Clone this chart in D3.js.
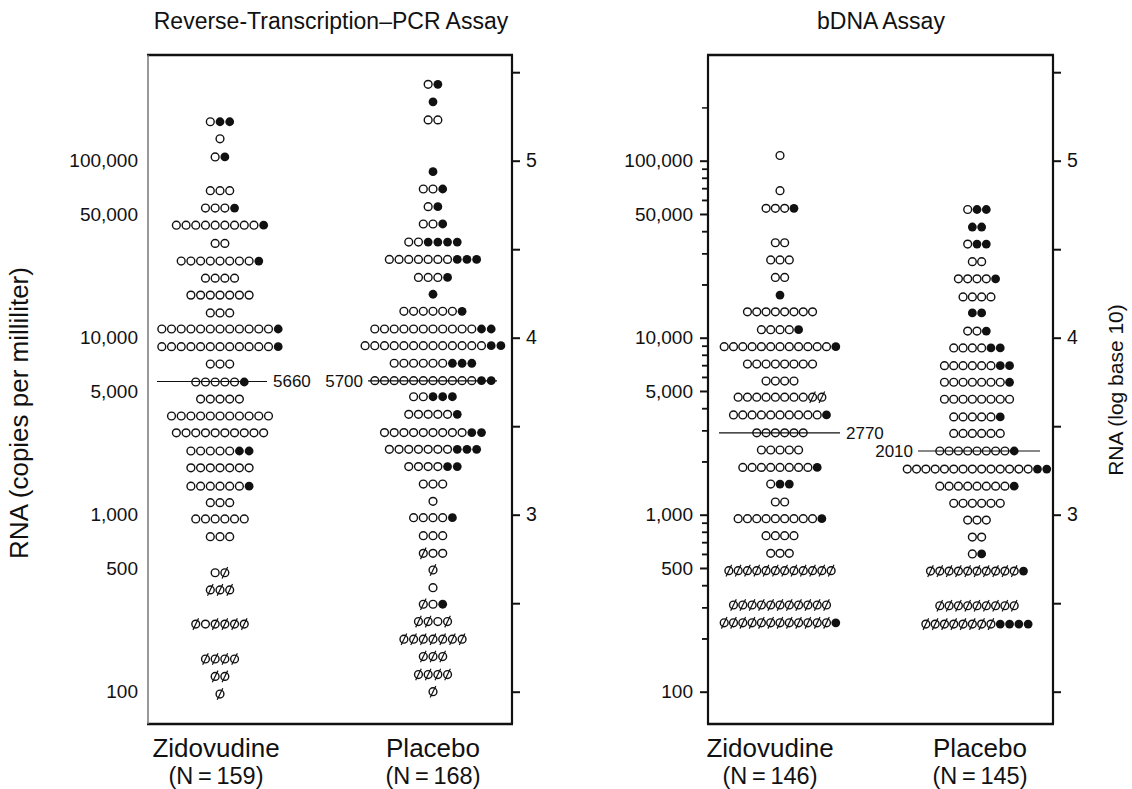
<!DOCTYPE html>
<html>
<head>
<meta charset="utf-8">
<script src="https://cdn.jsdelivr.net/npm/d3@7"></script>
<style>
  body { margin: 0; background: #fff; }
  text { font-family: "Liberation Sans", Arial, sans-serif; fill: #111; }
</style>
</head>
<body>
<svg width="1132" height="789"></svg>
<script>
const svg = d3.select('svg')

// axis ticks
const countTicks = [100, 500, 1000, 5000, 10000, 50000, 100000]
const logTicks = [2, 2.5, 3, 3.5, 4, 4.5, 5, 5.5]
const logLabels = [3, 4, 5]
const groups = ['Zidovudine', 'Placebo']
const assays = ['Reverse-Transcription\u2013PCR Assay', 'bDNA Assay']
const groupN = [[159, 168], [146, 145]]

// one row per level: [RNA copies per ml, dots]  o open, f filled, s slashed
const rtZidovudine = [
  [166000, 'off'], [133000, 'o'], [105000, 'of'], [67700, 'ooo'], [54000, 'ooof'],
  [43200, 'ooooooooof'], [34100, 'oo'], [27100, 'oooooooof'], [21700, 'oooo'],
  [17400, 'ooooooo'], [13800, 'ooo'], [11200, 'oooooooooooof'], [8900, 'oooooooooooof'],
  [7100, 'ooo'], [5620, 'ooooof'], [4500, 'ooooo'], [3610, 'ooooooooooo'],
  [2900, 'oooooooooo'], [2290, 'oooooff'], [1840, 'ooooooo'], [1450, 'oooooof'],
  [1170, 'ooo'], [946, 'oooooo'], [751, 'ooo'], [470, 'os'], [376, 'sss'],
  [241, 'sossss'], [153, 'ssss'], [122, 'ss'], [97, 's']
]
const rtPlacebo = [
  [270000, 'of'], [215000, 'f'], [170000, 'oo'], [86700, 'f'], [69200, 'oof'],
  [55000, 'of'], [43900, 'oof'], [34700, 'ooffff'], [27700, 'ooooooofff'],
  [21900, 'ooof'], [17600, 'f'], [14100, 'oooooof'], [11200, 'oooooooooooff'],
  [9010, 'oooooooooooooff'], [7170, 'oooooofff'], [5720, 'oooooooooooff'],
  [4640, 'oofff'], [3690, 'ooooof'], [2910, 'oooooooooff'], [2340, 'ooooooofff'],
  [1870, 'ooooff'], [1490, 'ooo'], [1190, 'o'], [962, 'oooof'], [761, 'ooo'],
  [605, 'soo'], [487, 's'], [387, 'o'], [312, 'sof'], [249, 'ssos'],
  [198, 'sssssss'], [158, 'sss'], [125, 'ssss'], [100, 's']
]
const bdnaZidovudine = [
  [107000, 'o'], [67700, 'o'], [53800, 'ooof'], [34400, 'oo'], [27500, 'ooo'],
  [21900, 'oo'], [17400, 'f'], [14000, 'oooooooo'], [11100, 'oooof'],
  [8900, 'oooooooooooof'], [7100, 'oooooooo'], [5690, 'oooo'], [4610, 'ooooooooss'],
  [3660, 'oooooooooof'], [2900, 'oooooo'], [2320, 'ooooo'], [1850, 'oooooooof'],
  [1490, 'off'], [1180, 'oo'], [949, 'ooooooooof'], [761, 'oooo'], [605, 'ooo'],
  [483, 'ssssssssssss'], [309, 'sssssssssss'], [245, 'ssssssssssssf']
]
const bdnaPlacebo = [
  [53000, 'off'], [42200, 'ff'], [33800, 'off'], [26900, 'oo'], [21500, 'oooof'],
  [17000, 'oooo'], [13800, 'ff'], [10900, 'oof'], [8750, 'ooooff'],
  [6950, 'ooooooff'], [5600, 'ooooooof'], [4490, 'oooooooo'], [3570, 'ooooof'],
  [2880, 'oooooo'], [2290, 'oooooooof'], [1810, 'ooooooooooooooff'],
  [1450, 'oooooooof'], [1160, 'oooooo'], [932, 'ooo'], [747, 'oo'], [600, 'of'],
  [480, 'ssssssssssf'], [306, 'sssssssss'], [241, 'ssssssssffff']
]
const panelRows = [[rtZidovudine, rtPlacebo], [bdnaZidovudine, bdnaPlacebo]]

// medians: printed value and level where the line sits in the figure
const medianLabels = [[5660, 5700], [2770, 2010]]
const medianLevels = [[5660, 5700], [2900, 2290]]

// layout
const frameTop = 55, frameBottom = 724
const panels = [
  {x0: 148, x1: 512, centers: [220, 433], labelX: [216, 433], titleX: 331, pitch: 9.7,
   median: [{left: 63, right: 47, side: 'right'}, {left: 65, right: 64, side: 'left'}],
   leftTicks: false},
  {x0: 708, x1: 1053, centers: [780, 977], labelX: [770, 980], titleX: 881, pitch: 9.3,
   median: [{left: 61, right: 60, side: 'right'}, {left: 59, right: 63, side: 'left'}],
   leftTicks: true}
]

const y = d3.scaleLog()
  .domain([100, 100000])
  .range([691.7, 160.7])

const fmt = d3.format(',')

panels.forEach((p, pi) => {
  const g = svg.append('g')

  // frame
  g.append('line').attr('x1', p.x0 - 1).attr('x2', p.x1 + 1).attr('y1', frameTop).attr('y2', frameTop)
    .attr('stroke', '#111').attr('stroke-width', 2.5)
  g.append('line').attr('x1', p.x0 - 1).attr('x2', p.x1 + 1).attr('y1', frameBottom).attr('y2', frameBottom)
    .attr('stroke', '#111').attr('stroke-width', 2.5)
  g.append('line').attr('x1', p.x0).attr('x2', p.x0).attr('y1', frameTop).attr('y2', frameBottom)
    .attr('stroke', p.leftTicks ? '#111' : '#777').attr('stroke-width', p.leftTicks ? 2.2 : 1.5)

  // left axis, copies per ml
  const leftAxis = d3.axisLeft(y)
    .tickValues(countTicks)
    .tickFormat(fmt)
    .tickSize(p.leftTicks ? 8 : 0)
    .tickPadding(p.leftTicks ? 7 : 10)
  const la = g.append('g')
    .attr('transform', `translate(${p.x0},0)`)
    .call(leftAxis)
  la.select('.domain').remove()
  la.selectAll('text').attr('font-size', 19).attr('fill', '#111')
  la.selectAll('line').attr('stroke', '#111').attr('stroke-width', 2)

  if (p.leftTicks) {
    const minor = []
    countTicks.slice(0, -1).forEach(t => {
      const d = Math.pow(10, Math.floor(Math.log10(t)))
      for (let k = 2; k <= 9; k++) {
        const v = k * d
        if (!countTicks.includes(v)) minor.push(v)
      }
    })
    minor.push(200000)
    const ma = g.append('g')
      .attr('transform', `translate(${p.x0},0)`)
      .call(d3.axisLeft(y).tickValues(minor).tickFormat('').tickSize(6))
    ma.select('.domain').remove()
    ma.selectAll('line').attr('stroke', '#111').attr('stroke-width', 1.5)
  }

  // right axis, log base 10
  const yl = d3.scaleLinear().domain([2, 5]).range([y(100), y(100000)])
  const ra = g.append('g')
    .attr('transform', `translate(${p.x1},0)`)
    .call(d3.axisRight(yl).tickValues(logTicks)
      .tickFormat(d => logLabels.includes(d) ? d : '')
      .tickSize(8).tickPadding(6))
  ra.select('.domain').attr('d', `M0,${frameTop}V${frameBottom}`).attr('stroke', '#111').attr('stroke-width', 2.2)
  ra.selectAll('line').attr('stroke', '#111').attr('stroke-width', 2)
  ra.selectAll('text').attr('font-size', 19.5).attr('fill', '#111')

  // title
  svg.append('text')
    .attr('x', p.titleX)
    .attr('y', 29)
    .attr('text-anchor', 'middle')
    .attr('font-size', 23)
    .text(assays[pi])

  // group labels
  groups.forEach((name, gi) => {
    svg.append('text')
      .attr('x', p.labelX[gi]).attr('y', 757)
      .attr('text-anchor', 'middle').attr('font-size', 26)
      .text(name)
    svg.append('text')
      .attr('x', p.labelX[gi]).attr('y', 784)
      .attr('text-anchor', 'middle').attr('font-size', 23.5)
      .text(`(N\u2009=\u2009${groupN[pi][gi]})`)
  })

  // dots
  groups.forEach((name, gi) => {
    const cx = p.centers[gi]
    const dots = []
    panelRows[pi][gi].forEach(([v, s]) => {
      const n = s.length
      s.split('').forEach((k, i) => {
        dots.push({v, k, x: cx + (i - (n - 1) / 2) * p.pitch})
      })
    })
    const dg = g.selectAll(null)
      .data(dots)
      .enter()
      .append('g')
      .attr('transform', d => `translate(${d.x},${y(d.v)})`)
    dg.append('circle')
      .attr('r', d => d.k === 'f' ? 4.4 : 3.9)
      .attr('fill', d => d.k === 'f' ? '#111' : '#fff')
      .attr('stroke', '#111')
      .attr('stroke-width', d => d.k === 'f' ? 0 : 1.4)
    dg.filter(d => d.k === 's')
      .append('line')
      .attr('x1', -2.8).attr('y1', 5.8).attr('x2', 2.8).attr('y2', -5.8)
      .attr('stroke', '#111').attr('stroke-width', 1.2)

    // median line and label
    const m = p.median[gi]
    const my = y(medianLevels[pi][gi])
    g.append('line')
      .attr('x1', cx - m.left).attr('x2', cx + m.right)
      .attr('y1', my).attr('y2', my)
      .attr('stroke', '#111').attr('stroke-width', 1.1)
    g.append('text')
      .attr('x', m.side === 'right' ? cx + m.right + 6 : cx - m.left - 5)
      .attr('y', my + 6)
      .attr('text-anchor', m.side === 'right' ? 'start' : 'end')
      .attr('font-size', 17)
      .text(medianLabels[pi][gi])
  })
})

// axis titles
svg.append('text')
  .attr('transform', 'translate(28,413) rotate(-90)')
  .attr('text-anchor', 'middle').attr('font-size', 26)
  .text('RNA (copies per milliliter)')
svg.append('text')
  .attr('transform', 'translate(1123,390) rotate(-90)')
  .attr('text-anchor', 'middle').attr('font-size', 21)
  .text('RNA (log base 10)')
</script>
</body>
</html>
